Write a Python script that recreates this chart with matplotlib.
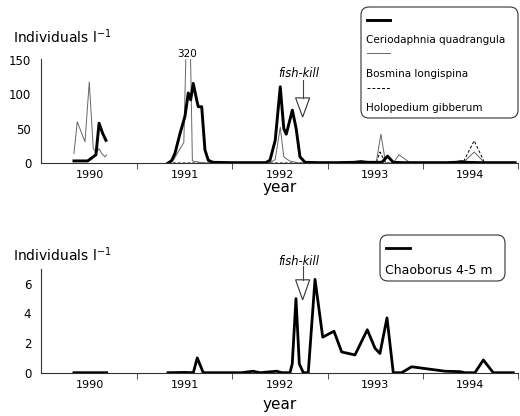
import numpy as np
import matplotlib
matplotlib.use("Agg")
import matplotlib.pyplot as plt
from matplotlib.patches import FancyBboxPatch, Polygon
from matplotlib.lines import Line2D

nan = np.nan

# Ceriodaphnia quadrangula (thick line)
cerio_t = [1989.836, 1989.98, 1990.039, 1990.067, 1990.10, 1990.138, 1990.172, nan,
           1990.824, 1990.86, 1990.897, 1990.95, 1991.002, 1991.037, 1991.062, 1991.089,
           1991.125, 1991.142, 1991.178, 1991.212, 1991.247, 1991.296, 1991.5, 1991.7,
           1991.85, 1991.895, 1991.95, 1992.003, 1992.04, 1992.066, 1992.13, 1992.17,
           1992.21, 1992.263, 1992.4, 1992.6, 1992.78, 1992.85, 1992.92, 1993.0,
           1993.07, 1993.13, 1993.19, 1993.3, 1993.5, 1993.75, 1993.85, 1993.9,
           1993.96, 1994.1, 1994.3, 1994.47]
cerio_v = [3, 3, 9, 12, 58, 43, 33, nan,
           0, 3, 14, 43, 68, 102, 92, 116,
           92, 82, 82, 19, 4, 1, 0.5, 0.5,
           0.5, 4, 33, 111, 50, 42, 77, 50,
           9, 1, 0.5, 0.5, 1, 2, 1, 1,
           1, 10, 1, 0.5, 0.5, 0.5, 1, 2,
           1, 0.5, 0.5, 0.5]

# Bosmina longispina (thin line)
bosm_t = [1989.836, 1989.871, 1989.952, 1989.997, 1990.039, 1990.07, 1990.10, 1990.127,
          1990.162, 1990.18, nan,
          1990.824, 1990.88, 1990.99, 1991.04, 1991.08, 1991.2, 1991.5, 1991.8,
          1991.9, 1991.95, 1992.003, 1992.04, 1992.1, 1992.2, 1992.5, 1992.9,
          1993.01, 1993.06, 1993.11, 1993.19, 1993.25, 1993.37, 1993.6, 1993.92,
          1994.04, 1994.15, 1994.3, 1994.47]
bosm_v = [14, 60, 31, 118, 21, 15, 21, 14,
          9, 12, nan,
          0, 4, 30, 320, 3, 0, 0, 0,
          1, 5, 52, 9, 3, 0, 0, 0,
          0, 42, 0, 0, 12, 0, 0, 0,
          16, 0, 0, 0]

# Holopedium gibberum (dashed line)
holo_t = [1990.824, 1991.5, 1992.5, 1992.95, 1993.01, 1993.05, 1993.11, 1993.5,
          1993.92, 1994.04, 1994.15, 1994.47]
holo_v = [0, 0, 0, 0, 0, 16, 0, 0,
          0, 32.5, 0, 0]

# Chaoborus 4-5 m
chao_t = [1989.836, 1989.9, 1990.0, 1990.1, 1990.18, nan,
          1990.824, 1991.0, 1991.09, 1991.131, 1991.194, 1991.6, 1991.716, 1991.79,
          1991.965, 1992.02, 1992.105, 1992.129, 1992.168, 1992.203, 1992.245,
          1992.297, 1992.368, 1992.449, 1992.567, 1992.648, 1992.788, 1992.917,
          1992.998, 1993.05, 1993.124, 1993.19, 1993.278, 1993.383, 1993.733,
          1993.89, 1993.943, 1994.048, 1994.136, 1994.24, 1994.45]
chao_v = [0, 0, 0, 0, 0, nan,
          0, 0.02, 0, 1.0, 0, 0, 0.1, 0,
          0.1, 0, 0, 0.6, 5.0, 0.6, 0,
          0, 6.3, 2.4, 2.8, 1.4, 1.2, 2.9,
          1.65, 1.3, 3.7, 0, 0, 0.4, 0.1,
          0.07, 0, 0, 0.86, 0, 0]

years = [1990, 1991, 1992, 1993, 1994]
top_yticks = [0, 50, 100, 150]
bot_yticks = [0, 2, 4, 6]
fishkill = 1992.238
bosm_peak_label = "320"

W, H = 520, 416
fig = plt.figure(figsize=(W / 100, H / 100), dpi=100)
plt.rcParams['font.family'] = 'DejaVu Sans'


def style_axis(ax, ylim, yticks):
    ax.set_xlim(1989.49, 1994.5)
    ax.set_ylim(*ylim)
    for s in ["top", "right"]:
        ax.spines[s].set_visible(False)
    for s in ["left", "bottom"]:
        ax.spines[s].set_linewidth(0.8)
        ax.spines[s].set_color("#333333")
    ax.set_xticks(years)
    ax.set_xticks([y + 0.5 for y in years], minor=True)
    ax.tick_params(axis="x", which="major", length=0, pad=5, labelsize=8)
    ax.tick_params(axis="x", which="minor", length=4, direction="out", color="#333333")
    ax.set_yticks(yticks)
    ax.tick_params(axis="y", length=0, pad=7, labelsize=8.5)


def fish_arrow(ax, text_y, stem_top, tri_top, tip, half_w=0.074):
    ax.text(fishkill - 0.04, text_y, "fish-kill", style="italic", fontsize=8.3,
            ha="center", va="center", clip_on=False)
    ax.plot([fishkill, fishkill], [stem_top, tri_top], color="#444444", lw=0.8,
            clip_on=False)
    tri = Polygon([[fishkill - half_w, tri_top], [fishkill + half_w, tri_top],
                   [fishkill, tip]], closed=True, facecolor="white",
                  edgecolor="#333333", lw=0.8, clip_on=False)
    ax.add_patch(tri)


# ---- top panel
ax1 = fig.add_axes([41 / W, 1 - 163 / H, 477 / W, 104 / H])
style_axis(ax1, (0, 151.5), top_yticks)
ax1.plot(holo_t, holo_v, color="black", lw=0.7, ls=(0, (3, 2)))
ax1.plot(bosm_t, bosm_v, color="#666666", lw=0.7)
ax1.plot(cerio_t, cerio_v, color="black", lw=2.1)
ax1.text(1991.02, 152, bosm_peak_label, fontsize=7.5, ha="center", va="bottom")
fish_arrow(ax1, 131, 121, 94.8, 67)

# ---- bottom panel
ax2 = fig.add_axes([41 / W, 1 - 372.7 / H, 477 / W, 103.7 / H])
style_axis(ax2, (0, 7.0), bot_yticks)
ax2.plot(chao_t, chao_v, color="black", lw=2.0)
fish_arrow(ax2, 7.5, 7.17, 6.27, 4.92)

# ---- axis titles
for y in (37, 255):
    fig.text(13 / W, 1 - y / H, "Individuals l$^{-1}$", fontsize=10, va="center")
for y in (187, 405):
    fig.text(280 / W, 1 - y / H, "year", fontsize=11, ha="center", va="center")


# ---- legends drawn with the stacked layout of the original
def box(x0, y0, x1, y1):
    p = FancyBboxPatch((x0 / 100, (H - y1) / 100), (x1 - x0) / 100, (y1 - y0) / 100,
                       boxstyle="round,pad=0,rounding_size=0.08",
                       transform=fig.dpi_scale_trans, facecolor="white",
                       edgecolor="#333333", lw=0.8)
    fig.add_artist(p)


def handle(x0, x1, y, **kw):
    fig.add_artist(Line2D([x0 / W, x1 / W], [1 - y / H, 1 - y / H],
                          transform=fig.transFigure, **kw))


box(361, 7, 518, 118)
handle(367, 390, 20, color="black", lw=2.1)
fig.text(366 / W, 1 - 40 / H, "Ceriodaphnia quadrangula", fontsize=7.5, va="center")
handle(367, 390, 53, color="#666666", lw=0.7)
fig.text(366 / W, 1 - 74 / H, "Bosmina longispina", fontsize=7.5, va="center")
handle(367, 390, 88, color="black", lw=0.7, ls=(0, (3, 2)))
fig.text(366 / W, 1 - 108 / H, "Holopedium gibberum", fontsize=7.5, va="center")

box(380, 235, 505, 281)
handle(386, 410, 248, color="black", lw=2.0)
fig.text(385 / W, 1 - 270 / H, "Chaoborus 4-5 m", fontsize=9, va="center")

fig.savefig("out.png", dpi=100)
